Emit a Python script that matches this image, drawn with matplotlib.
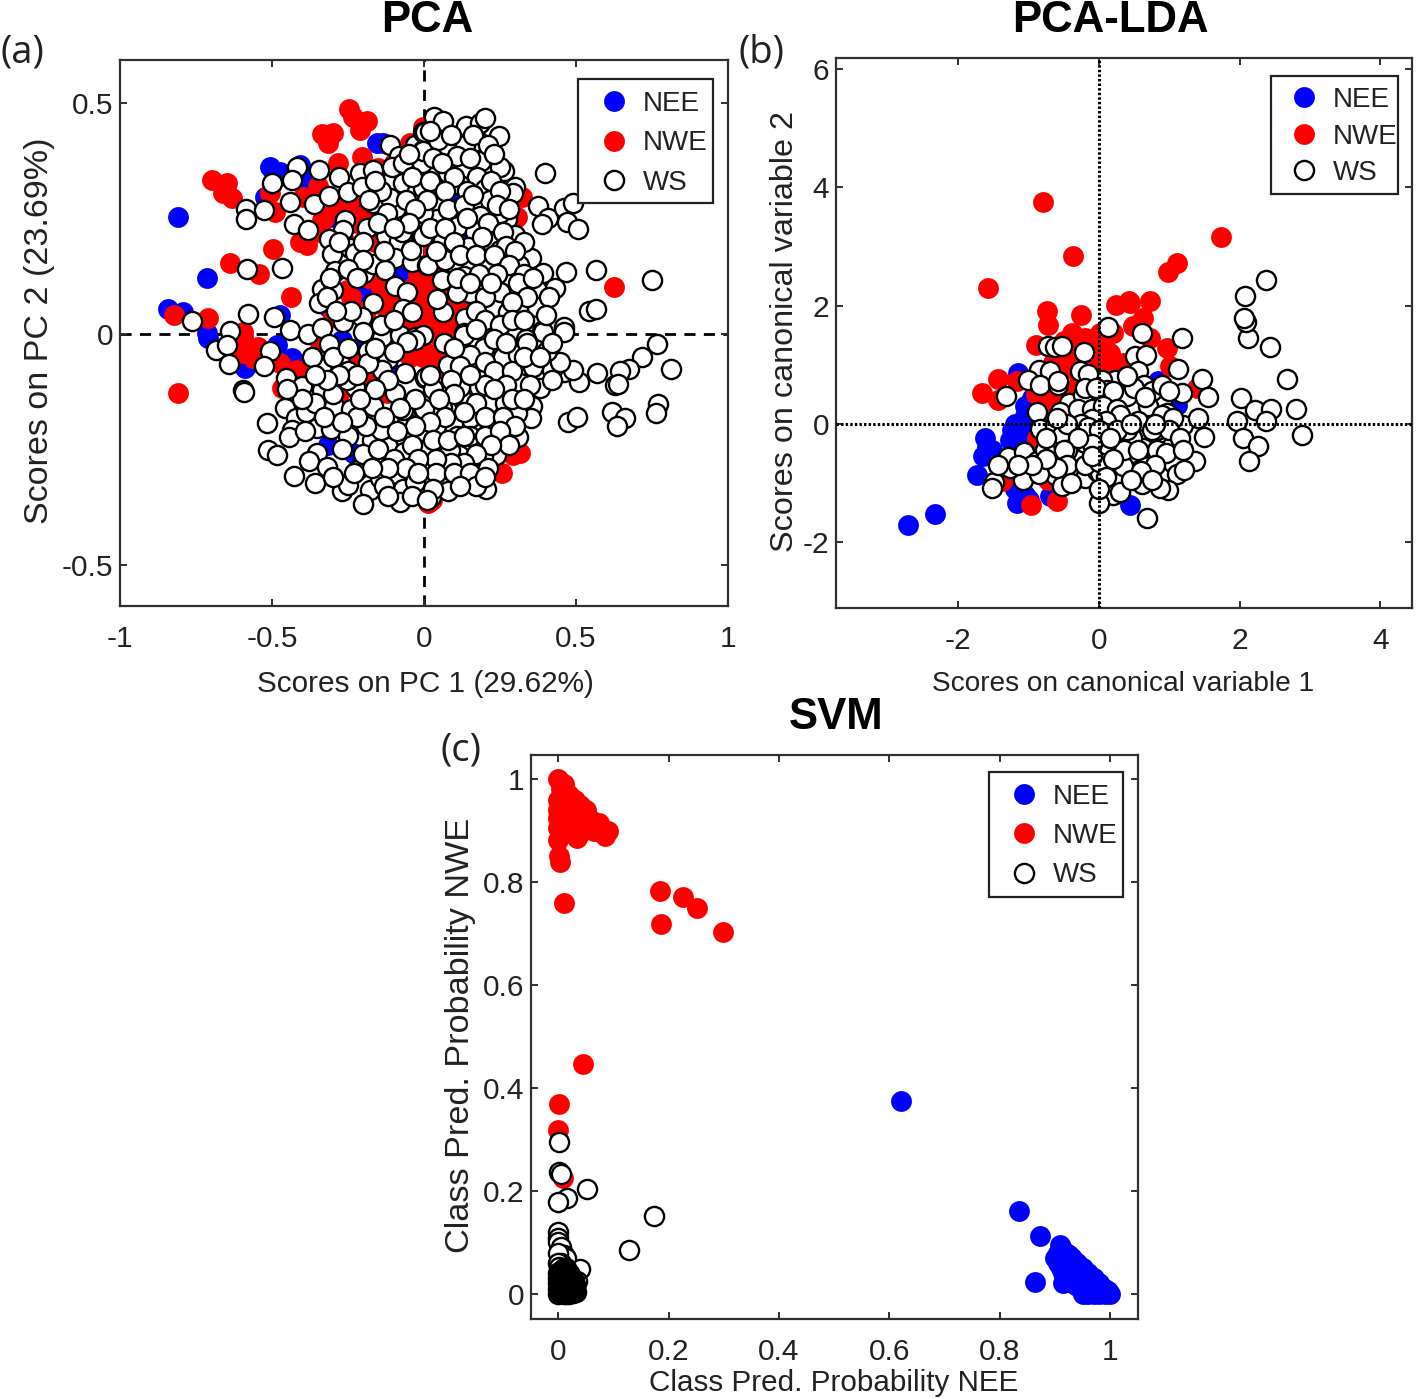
import numpy as np
import matplotlib
matplotlib.use("Agg")
import matplotlib.pyplot as plt
from matplotlib.lines import Line2D
from matplotlib.patches import Rectangle

plt.rcParams['font.family'] = ['Liberation Sans', 'DejaVu Sans']

# ---------- panel (a) PCA scores ----------
pca_nee = [(-.808,.254),(-.715,.12),(-.843,.055),(-.792,.048),(-.713,.001),(-.507,.362),(-.474,.351),(-.523,.297),
(-.408,.366),(-.38,.33),(-.156,.413),(-.134,.413),(-.221,.279),(-.309,.254),(-.216,.102),(-.167,.088),(-.2,.063),
(-.474,.041),(-.073,.124),(-.315,.059),(.053,.319),(.094,.294),(.119,.211),(.274,.195),(-.709,-.009),(-.589,-.074),
(-.485,-.024),(-.435,-.053),(-.375,-.063),(-.271,-.013),(-.315,-.24),(-.232,-.257),(-.211,-.028),(-.106,-.085),
(-.271,-.179),(-.013,-.345),(-.353,-.1)]
pca_nwe = [(-.698,.333),(-.647,.326),(-.66,.304),(-.633,.294),(-.246,.488),(-.21,.441),(-.189,.46),(-.232,.47),
(-.334,.433),(-.298,.434),(-.315,.413),(-.282,.369),(-.205,.384),(-.046,.413),(-.49,.265),(-.507,.304),(-.397,.297),
(-.408,.2),(-.386,.193),(-.498,.183),(-.638,.154),(-.542,.129),(-.439,.081),(-.821,.04),(-.709,.034),(-.594,.005),
(-.254,.095),(-.298,.037),(-.337,.247),(-.342,.232),(-.189,.261),(-.167,.239),(-.156,.117),(-.112,.088),(-.09,.052),
(-.035,.102),(-.002,.074),(.009,.03),(-.035,.059),(-.002,.117),(-.057,.074),(.009,.124),(.02,.074),(.053,.03),
(.097,.03),(.003,.023),(.086,.088),(.031,.189),(.168,.073),(.234,.02),(.625,.102),(.321,.297),(.305,.254),(-.002,.449),
(-.808,-.128),(-.594,-.006),(-.594,-.042),(-.545,-.028),(-.561,-.053),(-.474,-.064),(-.468,-.118),(-.419,-.078),
(-.386,-.089),(-.342,-.02),(-.287,-.186),(-.254,-.2),(-.194,-.085),(-.145,-.1),(-.123,-.128),(-.167,-.114),(-.046,-.049),
(-.002,-.049),(-.276,-.125),(.014,-.367),(.256,-.082),(.042,-.049),(.009,-.042),(.13,-.085),(.064,-.092),(.02,-.064),
(.316,-.258),(.294,-.262),(.258,-.302),(.2,-.284),(.025,-.359),(0,0),(.04,0),(.08,0),(-.03,-.02),(.05,.07),(.03,.13),
(0,.1),(.04,.1),(.07,.12),(.1,.1),(.12,.06),(.1,0),(.02,.05),(.06,.05),(-.02,.04),(-.05,.02),(-.08,.01),(-.06,-.04),(-.1,-.02),
(.13,.03),(.06,-.03),(.12,-.02),(-.09,.09),(-.13,.06),(-.14,.1),(0,.15),(.03,.17),(-.02,.13),(.1,.14),(.08,.19),
(-.3,.28),(-.25,.28),(-.33,.25),(-.22,.24),(-.16,.2),(-.12,.25),(-.2,.3),(-.35,.22),(-.35,.32),(-.26,.2),(-.15,.36),(-.1,.37),
(-.18,.12),(-.19,.05),(-.24,.08),(-.15,-.06),(-.22,-.06),(-.3,-.2)]
pca_ws = [(-.586,.271),(-.586,.248),(-.525,.268),(-.5,.326),(-.417,.361),(-.434,.333),(-.345,.355),(-.44,.286),(-.363,.281),
(-.428,.239),(-.38,.225),(-.312,.299),(-.281,.34),(-.251,.308),(-.211,.349),(-.169,.355),(-.205,.319),(-.167,.284),
(-.105,.333),(-.068,.326),(-.092,.272),(-.112,.294),(-.123,.261),(-.024,.309),(-.011,.263),(-.26,.247),(-.265,.225),
(-.189,.229),(-.126,.213),(-.083,.201),(-.073,.221),(-.312,.206),(-.243,.185),(-.304,.173),(-.227,.175),(-.293,.136),
(-.196,.131),(-.167,.151),(-.095,.164),(-.041,.156),(-.128,.138),(.009,.149),(-.011,.211),(-.043,.182),(-.095,.104),
(-.057,.09),(-.068,.055),(-.041,.048),(-.337,.097),(-.298,.095),(-.344,.066),(-.167,.066),(-.205,.037),(-.265,.025),
(-.492,.037),(-.578,.043),(-.762,.028),(-.638,.007),(-.583,.14),(-.466,.142),(-.441,.009),(-.38,0),(-.337,.012),(-.2,.005),
(-.139,-.006),(-.079,-.002),(-.03,-.006),(-.002,-.002),(-.112,.409),(-.081,.386),(-.03,.409),(-.002,.398),(-.002,.438),
(-.106,.362),(-.068,.369),(-.008,.369),
(.033,.47),(.064,.46),(.003,.438),(.138,.451),(.184,.456),(.2,.467),(.248,.429),(.179,.418),(.135,.409),(.077,.397),
(-.002,.397),(.047,.42),(.188,.374),(.264,.353),(.25,.362),(.078,.348),(.173,.34),(.3,.319),(.2,.313),(.294,.304),(.042,.286),
(-.002,.315),(.119,.322),(.217,.29),(.184,.256),(.274,.248),(.25,.261),(.044,.249),(.111,.234),(-.002,.261),(.3,.214),
(.168,.221),(.221,.2),(.146,.188),(.064,.203),(-.002,.211),(.097,.153),(.014,.149),(.058,.117),(.133,.126),(.21,.12),
(.184,.089),(.27,.094),(.327,.09),(.371,.095),(.351,.164),(.393,.131),(.431,.1),(.467,.133),(.314,.149),(.278,.117),
(.228,.059),(.275,.048),(.31,.056),(.135,.034),(.062,.047),(.044,.075),(.36,.023),(.387,.007),(.462,.014),(.543,.05),
(.566,.055),(.566,.138),(.751,.117),(.397,.349),(.376,.277),(.409,.252),(.387,.238),(.459,.272),(.491,.284),(.47,.243),
(.508,.227),(.217,.001),(.13,.001),(.305,.001),(.069,.16),(.25,.182),(.206,.16),(.151,.088),(.108,.088),(.371,.059),
(-.684,-.035),(-.649,-.024),(-.641,-.065),(-.507,-.038),(-.525,-.069),(-.594,-.121),(-.592,-.125),(-.455,-.095),(-.402,-.113),
(-.337,-.067),(-.311,-.022),(-.435,-.143),(-.457,-.161),(-.422,-.181),(-.518,-.193),(-.435,-.208),(-.444,-.224),(-.512,-.251),
(-.485,-.262),(-.388,-.168),(-.337,-.121),(-.353,-.203),(-.307,-.206),(-.296,-.157),(-.24,-.162),(-.194,-.134),(-.227,-.114),
(-.276,-.063),(-.249,-.081),(-.254,-.1),(-.183,-.038),(-.117,-.055),(-.139,-.078),(-.183,-.064),(-.063,-.085),(.003,-.095),
(-.095,-.128),(-.03,-.013),(-.057,-.017),(-.251,-.221),(-.353,-.258),(-.378,-.276),(-.32,-.289),(-.428,-.307),(-.359,-.323),
(-.271,-.341),(-.249,-.327),(-.221,-.294),(-.178,-.338),(-.202,-.369),(-.145,-.311),(-.09,-.304),(-.068,-.336),(-.079,-.364),
(-.12,-.244),(-.066,-.255),(.003,-.249),(-.03,-.287),(.003,-.289),(.009,-.327),(-.172,-.229),(-.141,-.208),(-.055,-.193),
(-.004,-.162),(-.068,-.165),(-.013,-.226),(-.167,-.157),(-.112,-.287),
(.768,-.022),(.718,-.051),(.675,-.076),(.645,-.081),(.813,-.076),(.568,-.085),(.628,-.11),(.639,-.108),(.511,-.105),(.459,-.082),
(.491,-.078),(.422,-.079),(.448,-.06),(.404,-.036),(.461,.005),(.39,.005),(.335,-.011),(.36,-.071),(.38,-.118),(.316,-.107),
(.261,-.051),(.31,-.045),(.198,-.03),(.151,-.045),(.066,-.02),(.08,-.067),(.13,-.002),(.007,-.094),(.182,-.115),(.25,-.113),
(.127,-.143),(.212,-.152),(.267,-.149),(.058,-.16),(.025,-.139),(0,-.163),(.354,-.157),(.351,-.183),(.305,-.172),(.234,-.204),
(.151,-.183),(.097,-.196),(.039,-.199),(.308,-.224),(.176,-.233),(.151,-.222),(.267,-.24),(.237,-.262),(.195,-.264),(.151,-.273),
(.115,-.262),(.084,-.251),(.007,-.249),(.003,-.289),(.064,-.305),(.115,-.323),(.176,-.317),(.203,-.336),(.069,-.333),(.009,-.327),
(.023,-.352),(.473,-.19),(.502,-.18),(.618,-.17),(.661,-.181),(.636,-.2),(.771,-.152),(.762,-.172),(.108,-.222),(.053,-.114),(.119,-.114),
(.02,.44),(.09,.43),(.16,.43),(.21,.41),(.23,.39),(.11,.385),(.03,.38),(-.05,.39),(.15,.38),(.06,.37),
(-.04,.34),(.02,.33),(.1,.34),(.14,.31),(.22,.33),(.07,.31),(.25,.31),(-.06,.29),(.01,.29),(.08,.27),(.13,.28),(.16,.3),(.24,.28),(.28,.27),
(-.14,.31),(-.18,.29),(-.03,.27),(-.16,.33),(-.05,.24),(.02,.23),(.07,.23),(.14,.25),(.21,.24),(.26,.22),(.33,.2),(.19,.21),(.1,.2),(.27,.19),
(-.15,.24),(-.1,.23),(-.2,.2),(-.28,.2),(.04,.18),(.12,.17),(.17,.17),(.3,.18),(.23,.17),(-.13,.18),
(.28,.15),(.33,.13),(.24,.13),(.18,.13),(.11,.12),(.31,.11),(.36,.12),(.15,.11),(.25,.09),(.2,.08),(.34,.08),(.41,.08),(.22,.11),(.29,.07),
(-.2,.16),(-.25,.14),(-.22,.12),(-.31,.12),(-.32,.08),(.17,.05),(.2,.03),(.25,.02),(.29,.03),(.33,.03),(.4,.04),(.17,.01),(.23,-.01),(.27,-.02),
(.34,-.02),(.42,-.02),(-.24,.05),(-.29,.05),(.1,-.03),(.2,-.06),(.12,-.07),(.23,-.08),(.29,-.08),(.33,-.05),(.38,-.05),(.42,-.1),(.35,-.11),
(.27,-.11),(.2,-.11),(.15,-.09),(.09,-.1),(.03,-.12),(.02,-.09),(.1,-.13),(.17,-.15),(.23,-.12),(.29,-.14),(.33,-.14),(.05,-.14),(.13,-.17),
(.2,-.18),(.26,-.18),(.3,-.2),(.07,-.18),(.02,-.19),(-.03,-.14),(-.08,-.16),(-.13,-.18),(-.03,-.2),(-.09,-.21),(-.19,-.2),(-.22,-.18),(-.27,-.19),
(-.3,-.13),(-.36,-.15),(-.39,-.21),(-.33,-.18),(-.27,-.25),(-.2,-.26),(-.15,-.25),(-.1,-.27),(-.04,-.24),(.03,-.23),(.08,-.23),(.13,-.22),(.2,-.22),
(.25,-.21),(.28,-.24),(.22,-.24),(.17,-.26),(.13,-.28),(.09,-.28),(.04,-.27),(-.02,-.27),(-.06,-.29),(-.12,-.29),(-.17,-.29),(-.23,-.3),(-.3,-.31),
(-.13,-.33),(-.03,-.32),(.04,-.3),(.1,-.3),(.15,-.3),(.21,-.29),(.17,-.33),(.08,-.34),(.03,-.335),(-.04,-.35),(-.12,-.35),(.12,-.33),(.01,-.36),
(.2,-.31),(-.02,-.3),(-.37,-.05),(-.3,-.05),(-.25,-.03),(-.22,-.09),(-.16,-.03),(-.1,-.04),(-.12,-.1),(-.16,-.12),(-.21,-.14),(-.28,-.09),(-.32,-.1),
(-.36,-.09),(-.4,-.14),(-.45,-.12),(-.14,.02),(-.1,.03)]

# ---------- panel (b) PCA-LDA scores ----------
lda_nee = [(-2.717,-1.709),(-2.333,-1.523),(-1.621,-.243),(-1.527,-.44),(-1.645,-.553),(-1.73,-.863),(-1.171,-.102),(-1.242,-.102),
(-1.266,-.271),(-1.053,-.271),(-1.053,.124),(-.958,.434),(-1.147,.857),(-1.171,-1.342),(-1.053,-1.2),(-.697,-1.23),(.037,-1.06),
(.44,-1.37),(.843,.727),(1.104,.321),(-.365,-.976),(-1.219,-.976),(-.839,.124),(-1.124,-.44),
(-1.15,-.2),(-1.05,-.1),(-1.1,0),(-1,-.2),(-1.2,0),(-1.05,.3),(-1,-.4),(-1.6,-.4),(-1.2,-1.1),(-1,-1.3)]
lda_nwe = [(-.797,3.756),(-.37,2.843),(1.735,3.164),(-1.579,2.301),(.98,2.57),(1.11,2.72),(.427,2.08),(-.745,1.9),(-.721,1.675),
(-.261,1.844),(.241,2.013),(.44,2.042),(.725,2.07),(.62,1.788),(.487,1.647),(.725,1.449),(.961,1.28),(1.009,.97),(1.388,.603),
(-.896,1.337),(-.389,1.534),(-.5,1.4),(.014,1.534),(.203,1.534),(.156,1.196),(.345,1.026),(.014,1.026),(-.318,1.308),(-.152,1.196),
(-1.441,.761),(-1.171,.716),(-1.659,.519),(-1.432,.406),(-.65,1.026),(-.508,.913),(-.697,.293),(-.6,.3),(-.792,.35),(-.318,.632),
(-.887,-.243),(-1.053,-.722),(-1.385,-.976),(-.721,-.948),(.18,-.835),(-.593,-1.303),(-.972,-1.371),
(-.6,1.2),(-.45,1.15),(-.3,1.1),(-.1,1),(.05,1.3),(.15,.9),(.3,.85),(-.4,.95),(-.55,.6),(-.7,.55),(-.6,.4),(-.85,.6),(-.9,.5),(-.75,.15),(-.65,.05),(-.2,1.45)]
lda_ws = [(.122,1.636),(.606,1.534),(1.184,1.449),(-.209,1.207),(-.721,1.32),(-.626,1.297),(-.531,1.308),(.511,1.139),(.668,1.156),
(1.118,.931),(1.459,.761),(1.554,.445),(1.184,.519),(.559,.885),(.644,.66),(.369,.699),(.227,.744),(.037,.744),(-.271,.885),
(-.152,.846),(-.854,.902),(-.697,.885),(-1.005,.744),(-.839,.66),(-.579,.66),(-.579,.72),(-1.323,.462),(-.427,.35),(-.081,.434),
(.142,.35),(.345,.406),(.867,.35),(.914,.434),(.606,.225),(-.877,.197),(-.839,-.09),(-.626,-.017),(-.342,.096),(0,.124),(.227,.039),
(.488,.079),(.748,.096),(1.113,-.017),(1.199,-.017),(1.412,.096),(1.497,-.226),(.108,-.13),(-.057,-.226),(.62,-.119),(.867,-.26),
(1.032,-.384),(1.364,-.626),(1.056,-.666),(1.104,-.846),(1.213,-.79),(.985,-1.117),(.867,-1.089),(.606,-1.015),(.322,-.976),
(.203,-1.213),(0,-1.343),(.677,-1.596),(.44,-.581),(.677,-.621),(.63,-.412),(.241,-.395),(.464,-.243),(-.342,-.355),(-.612,-.384),
(-.531,-.186),(-.176,-.496),(.004,-.542),(-.423,-.767),(-.626,-.863),(-.531,-1.049),(-.2,-.92),(-.034,-.807),(.535,-.807),(-1.077,-.948),
(-1.489,-.993),(-1.517,-1.089),(-1.266,-.75),(-1.299,-.564),(-1.441,-.705),(-1.062,-.485),(-.877,-.637),(-.65,-.609),(-.768,-.44),
(2.018,.434),(2.218,.237),(2.44,.254),(2.369,.039),(1.966,.039),(2.051,-.243),(2.265,-.384),(2.132,-.637),(2.8,.248),(2.881,-.198),
(2.667,.761),(2.43,1.297),(2.113,1.449),(2.089,1.714),(2.061,1.788),(2.077,2.166),(2.375,2.437),
(-.223,.321),(.274,.209),(.464,.237),(-.176,-.158),(.108,-.44),(.345,-.722),(-.318,-.609),(-.46,-.44),(.014,-.835),(.819,-.102),
(.393,-.102),(-.318,-.102),(-.555,-.609),(.961,.18),(.819,-.44),(.393,.462),(-.223,.491),(.108,.575),
(-.2,.6),(-.05,.6),(.2,.55),(.5,.6),(.75,.55),(-.55,.2),(-.3,.25),(-.1,.25),(.05,.3),(.25,.25),(.7,.3),(.9,.15),(1.05,.1),(.55,.05),(.3,.15),
(.1,.05),(-.1,.08),(-.25,0),(-.45,0),(-.15,-.05),(0,-.1),(.25,-.1),(.45,0),(.75,-.1),(1,-.1),(1.15,-.25),(.95,-.5),(.8,-.7),(.6,-.8),(.35,-.45),
(.15,-.25),(-.1,-.35),(-.3,-.25),(-.5,-.45),(-.75,-.25),(-.45,-.7),(-.2,-.7),(0,-.65),(.2,-.6),(.1,-.9),(.3,-1.15),(.45,-.95),(.75,-.95),(.55,-.45),
(-.6,-.75),(-.85,-.85),(-.1,-.55),(-.4,-1),(0,-1.1),(.9,.65),(1,.55),(.8,0),(.65,.45),(-.6,.1),(-.75,-.6),(-.95,-.7),(-1.15,-.7),(1.2,-.45),(.4,.8)]

# ---------- panel (c) SVM class probabilities ----------
svm_nee = [(.621,.375),(.835,.161),(.873,.113),(.864,.023),(.909,.095),(.91,.09),(.9,.07),(.92,.08),(.93,.07),(.91,.05),(.915,.02),
(.94,.06),(.95,.05),(.96,.04),(.97,.03),(.98,.02),(.99,.01),(1,0),(.96,0),(.97,0),(.98,0),(.95,.02),(.94,.03),(.93,.04),(.951,0),
(.99,0),(.92,.05),(.93,.06),(.925,.075),(.935,.055),(.945,.04),(.955,.03),(.965,.02),(.975,.01),(.985,.005),(.91,.07),(.905,.06),
(.915,.04),(.925,.03),(.93,.02),(.94,.015),(.95,.01),(.96,.015),(.97,.015),(.955,.005),(.965,.005),(.98,.01),(.995,.005),(.92,.065),(.905,.08)]
svm_nwe = [(0,1),(.005,.98),(.01,.99),(0,.96),(.02,.97),(.03,.96),(0,.94),(.01,.94),(.02,.95),(.03,.94),(.04,.95),(.05,.94),(.06,.92),
(.07,.91),(.08,.9),(.09,.9),(.085,.89),(.03,.92),(.04,.91),(.05,.92),(.01,.92),(0,.925),(.034,.885),(.065,.9),(0,.881),(.002,.85),
(.004,.839),(.011,.759),(.185,.782),(.227,.771),(.251,.749),(.187,.718),(.299,.703),(.045,.447),(.002,.369),(0,.318),(.009,.225),
(.015,.975),(.025,.955),(.035,.945),(.045,.93),(.055,.925),(.07,.9),(.075,.915),(.005,.955),(.015,.95),(.01,.905),(.025,.915),(.04,.93),
(.02,.93),(.05,.905),(.06,.905),(0,.905),(.03,.905),(.04,.895)]
svm_ws = [(.002,.295),(.002,.237),(.005,.232),(.053,.204),(.016,.186),(0,.179),(.174,.151),(.129,.085),(0,.12),(0,.109),(.04,.049),
(0,.1),(.005,.09),(.01,.075),(.015,.07),(0,.08),(.005,.06),(0,.06),(.015,.05)]
# the tightly packed WS core near the origin, which reads as a solid dark mass
svm_ws_core = [(.01,.05),(.02,.04),(0,.04),(.005,.03),(.015,.03),(.025,.02),
(.03,.015),(0,.02),(.01,.015),(.02,.01),(0,0),(.005,.005),(.01,0),(.015,0),(.02,0),(.025,.005),(.03,.01),(0,.01),(.035,.025),
(.005,.045),(0,.03),(.01,.035),
(.002,.052),(.006,.04),(.012,.045),(.003,.035),(.009,.028),(.014,.038),(.018,.022),(.022,.03),(.001,.025),(.007,.018),(.012,.022),
(.016,.012),(.02,.018),(.024,.012),(.028,.006),(.003,.014),(.008,.008),(.013,.006),(.017,.004),(.022,.006),(.027,.002),(.001,.005),
(.004,.002),(.007,.001),(.011,.011),(.015,.018),(.019,.028),(.006,.025),(.002,.043),(.009,.037),(.012,.033),(.017,.042),(.005,.012),
(.023,.024),(.026,.015),(.029,.021),(.032,.004),(.001,.015),(.01,.003),(.021,.014),
(.004,.022),(.008,.033),(.013,.013),(.018,.034),(.022,.019),(.026,.027),(.03,.003),(.006,.009),(.011,.026),(.016,.007),(.024,.033),
(.003,.028),(.009,.042),(.014,.024),(.019,.016),(.027,.011),(.031,.018),(.002,.009),(.007,.047),(.012,.004),(.021,.037),(.028,.024)]

class_names = ['NEE', 'NWE', 'WS']
W, H = 1416, 1399
MS = 15
TICK_FS = 21.5
LEG_FS = 20
DARK = '#222222'
GREY = '#303030'


def panel(box, nee, nwe, ws, xlim, ylim, xticks, yticks, xtl, ytl, xlabel, ylabel, title, title_x, title_pad,
          xlab_fs, ylab_fs, xlab_pos, ylab_pos, leg_box, leg_handle_x, leg_first_y, leg_space, guide=None, core=None):
    l, t, r, b = box
    bw, bh = r - l, b - t
    ax = fig.add_axes([l / W, 1 - b / H, bw / W, bh / H])
    for pts, fc, ec, mew in ((nee, 'blue', 'blue', 0), (nwe, 'red', 'red', 0), (ws, 'white', 'black', 1.7)):
        a = np.array(pts)
        ax.plot(a[:, 0], a[:, 1], ls='none', marker='o', ms=MS if mew == 0 else MS - 1.2, mfc=fc, mec=ec, mew=mew, zorder=3)
    if core is not None:
        a = np.array(core)
        ax.plot(a[:, 0], a[:, 1], ls='none', marker='o', ms=MS - 1.2, mfc='none', mec='black', mew=1.7, zorder=3)
    if guide == 'dash':
        ax.axhline(0, color='k', lw=2, dashes=(4, 3), zorder=1)
        ax.axvline(0, color='k', lw=2, dashes=(4, 3), zorder=1)
    elif guide == 'dot':
        ax.axhline(0, color='k', lw=2.2, dashes=(0.8, 0.7), zorder=4)
        ax.axvline(0, color='k', lw=2.2, dashes=(0.8, 0.7), zorder=4)
    ax.set_xlim(xlim); ax.set_ylim(ylim)
    ax.set_xticks(xticks); ax.set_yticks(yticks)
    ax.set_xticklabels(xtl); ax.set_yticklabels(ytl)
    ax.tick_params(direction='in', top=True, right=True, length=5, width=1.4, color=GREY,
                   labelsize=TICK_FS, labelcolor=DARK)
    ax.tick_params(axis='x', pad=13.7)
    ax.tick_params(axis='y', pad=5)
    for s in ax.spines.values():
        s.set_linewidth(1.6); s.set_color(GREY)
    ax.set_xlabel(xlabel, fontsize=xlab_fs, color=DARK, va='center')
    ax.set_ylabel(ylabel, fontsize=ylab_fs, color=DARK, va='center')
    ax.xaxis.set_label_coords((xlab_pos[0] - l) / bw, (b - xlab_pos[1]) / bh)
    ax.yaxis.set_label_coords((ylab_pos[0] - l) / bw, (b - ylab_pos[1]) / bh)
    ax.set_title(title, fontsize=31.5, fontweight='bold', pad=title_pad, x=title_x)

    # legend frame with the reference's exact box, and frameless entries on top of it
    x0, y0, x1, y1 = leg_box
    ax.add_patch(Rectangle(((x0 - l) / bw, (b - y1) / bh), (x1 - x0) / bw, (y1 - y0) / bh, transform=ax.transAxes,
                           fc='white', ec=DARK, lw=1.6, zorder=5))
    handles = [Line2D([], [], ls='none', marker='o', ms=MS, mfc='blue', mec='blue', mew=0),
               Line2D([], [], ls='none', marker='o', ms=MS, mfc='red', mec='red', mew=0),
               Line2D([], [], ls='none', marker='o', ms=MS - 1.2, mfc='white', mec='black', mew=1.7)]
    em = LEG_FS * 100 / 72
    leg = ax.legend(handles, class_names, loc='upper left',
                    bbox_to_anchor=((leg_handle_x - em / 2 - l) / bw, (b - (leg_first_y - em / 2)) / bh),
                    fontsize=LEG_FS, frameon=False, labelspacing=leg_space, handletextpad=0.04 + 0.5,
                    borderpad=0, borderaxespad=0, handlelength=1.0)
    leg.set_zorder(6)
    for txt in leg.get_texts():
        txt.set_color(DARK)
    return ax


fig = plt.figure(figsize=(W / 100, H / 100), dpi=100)

panel((120, 60, 728, 606), pca_nee, pca_nwe, pca_ws, (-1, 1), (-.589, .593),
      [-1, -.5, 0, .5, 1], [-.5, 0, .5], ['-1', '-0.5', '0', '0.5', '1'], ['-0.5', '0', '0.5'],
      'Scores on PC 1 (29.62%)', 'Scores on PC 2 (23.69%)', 'PCA', 0.505, 20.5,
      21.4, 24.5, (425, 684), (40, 331), (578, 79, 713, 203), 614, 105, 0.48, 'dash')
panel((836, 58, 1412, 608), lda_nee, lda_nwe, lda_ws, (-3.74, 4.45), (-3.12, 6.19),
      [-2, 0, 2, 4], [-2, 0, 2, 4, 6], ['-2', '0', '2', '4'], ['-2', '0', '2', '4', '6'],
      'Scores on canonical variable 1', 'Scores on canonical variable 2', 'PCA-LDA', 0.477, 19,
      20.2, 23.3, (1123, 684), (785, 332), (1271, 76, 1398, 194), 1304, 101, 0.38, 'dot')
panel((531, 755, 1138, 1319), svm_nee, svm_nwe, svm_ws, (-.049, 1.05), (-.049, 1.047),
      [0, .2, .4, .6, .8, 1], [0, .2, .4, .6, .8, 1], ['0', '0.2', '0.4', '0.6', '0.8', '1'],
      ['0', '0.2', '0.4', '0.6', '0.8', '1'],
      'Class Pred. Probability NEE', 'Class Pred. Probability NWE', 'SVM', 0.503, 19,
      21.35, 24.7, (834, 1383), (460, 1035), (989, 772, 1123, 897), 1024, 798, 0.47, None, svm_ws_core)

for s, x, y in (('(a)', 1, 53), ('(b)', 738, 53), ('(c)', 441, 751)):
    fig.text(x / W, 1 - y / H, s, fontsize=27.5, family=['Open Sans', 'DejaVu Sans'], color=DARK, va='center', ha='left')

fig.savefig('out.png', dpi=100)
